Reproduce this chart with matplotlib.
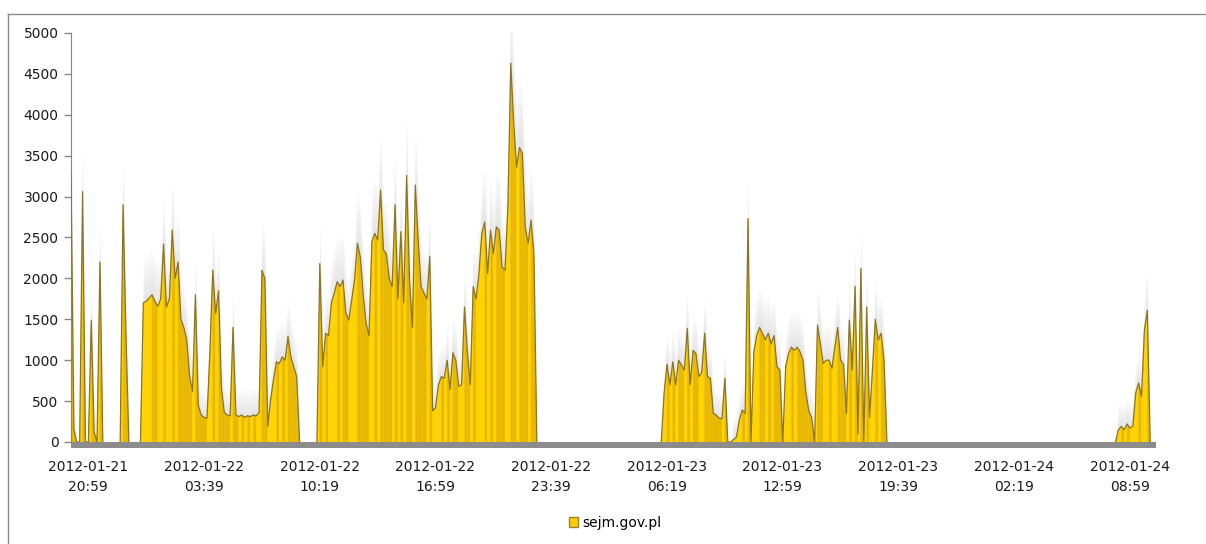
import matplotlib
matplotlib.use("Agg")
import matplotlib.pyplot as plt
import numpy as np
import pandas as pd
from matplotlib.collections import PolyCollection
from matplotlib.lines import Line2D
from matplotlib.patches import Patch

# requests per 10 minutes, one list per burst of traffic (start time -> values)
bursts = [
    ("2012-01-21 20:00", [3300, 150, 0, 0, 3060, 0, 0, 1490, 120, 0, 2200, 0]),
    ("2012-01-21 22:50", [0, 2900, 1300, 0]),
    ("2012-01-22 00:00", [0, 1700, 1720, 1760, 1800, 1720, 1660, 1750, 2420, 1650,
                          1750, 2590, 2000, 2200, 1500, 1400, 1250, 800, 620, 1800,
                          450, 330, 300, 290, 1100, 2100, 1570, 1850, 650, 360,
                          330, 320, 1400, 330, 310, 330, 300, 320, 310, 330,
                          320, 360, 2100, 2000, 190, 520, 760, 980, 960, 1040,
                          1000, 1290, 1040, 920, 800, 0]),
    ("2012-01-22 10:10", [0, 2180, 920, 1330, 1300, 1700, 1820, 1960, 1900, 1980,
                          1580, 1490, 1735, 1980, 2430, 2260, 1800, 1450, 1300, 2450,
                          2550, 2470, 3080, 2350, 2300, 2000, 1900, 2900, 1750, 2570,
                          1700, 3260, 1980, 1400, 3140, 2470, 1900, 1820, 1750, 2265,
                          380, 420, 700, 800, 780, 1000, 640, 1090, 1000, 680,
                          700, 1650, 1100, 700, 1900, 1750, 2060, 2550, 2690, 2060,
                          2590, 2300, 2630, 2590, 2140, 2100, 2880, 4630, 3900, 3360,
                          3600, 3530, 2630, 2430, 2710, 2300, 0]),
    ("2012-01-23 06:00", [0, 600, 950, 700, 980, 700, 1000, 940, 880, 1390,
                          700, 1120, 1080, 800, 850, 1330, 800, 780, 350, 330,
                          290, 285, 780, 0, 0, 30, 60, 270, 390, 350,
                          2730, 0, 1100, 1300, 1400, 1330, 1250, 1330, 1200, 1300,
                          920, 880, 0, 920, 1080, 1160, 1120, 1160, 1100, 1000,
                          600, 380, 300, 0, 1430, 1200, 960, 1000, 1000, 900,
                          1160, 1400, 1000, 950, 350, 1490, 880, 1900, 100, 2120,
                          0, 1650, 300, 880, 1500, 1250, 1330, 1000, 0]),
    ("2012-01-24 08:20", [150, 190, 150, 220, 170, 195, 600, 720, 560, 1370, 1610, 0]),
]

series_name = "sejm.gov.pl"
t_start = pd.Timestamp("2012-01-21 20:00")
t_end = pd.Timestamp("2012-01-24 10:15")
tick_times = pd.date_range("2012-01-21 20:59", periods=10, freq="400min")
y_ticks = np.arange(0, 5001, 500)

# one continuous series, zero where nothing happened
times = pd.date_range(t_start, t_end, freq="10min")
visits = pd.Series(0.0, index=times)
for start, vals in bursts:
    idx = pd.date_range(start, periods=len(vals), freq="10min")
    visits.loc[idx] = vals

x = (visits.index - t_start).total_seconds().values / 60.0
y = visits.values

fig = plt.figure(figsize=(12.06, 5.44), dpi=100)
ax = fig.add_axes([71 / 1206, 96.3 / 544, 1085 / 1206, 414.7 / 544])

# soft grey haze rising above the peaks
for k in range(1, 7):
    top = np.where(y > 0, y * (1 + 0.025 * k) + 45 * k, 0)
    ax.fill_between(x, y, top, color="#9a9a9a", alpha=0.045, lw=0, zorder=1)

# folded gold area: falling slopes a shade darker than rising ones
polys, cols = [], []
for i in range(len(x) - 1):
    if y[i] == 0 and y[i + 1] == 0:
        continue
    polys.append([(x[i], 0), (x[i], y[i]), (x[i + 1], y[i + 1]), (x[i + 1], 0)])
    cols.append("#E8B800" if y[i + 1] < y[i] else "#FFD200")
ax.add_collection(PolyCollection(polys, facecolors=cols, edgecolors=cols, linewidths=0.3, zorder=2))

ym = np.ma.masked_where((y == 0) & (np.roll(y, 1) == 0) & (np.roll(y, -1) == 0), y)
ax.plot(x, ym, color="#8a7428", lw=0.9, zorder=3)

# grey floor under the area
ax.axhspan(-70, 0, color="#8c8c8c", zorder=4, lw=0)

tick_x = (tick_times - t_start).total_seconds() / 60.0
ax.set_xlim(0, (t_end - t_start).total_seconds() / 60.0 + 15)
ax.set_ylim(-70, 5000)
ax.set_xticks(tick_x)
ax.set_xticklabels([t.strftime("%Y-%m-%d\n%H:%M") for t in tick_times], linespacing=1.55)
ax.set_yticks(y_ticks)
ax.set_yticklabels([str(v) for v in y_ticks])

for s in ["top", "right", "bottom"]:
    ax.spines[s].set_visible(False)
ax.spines["left"].set_color("#868686")
ax.spines["left"].set_bounds(0, 5000)
ax.tick_params(axis="y", length=5, width=1, color="#868686", labelsize=10, labelcolor="#1a1a1a", pad=4)
ax.tick_params(axis="x", length=0, labelsize=10, labelcolor="#1a1a1a", pad=9)

fig.legend(handles=[Patch(facecolor="#FFCC00", edgecolor="#9a8430", label=series_name)],
           loc="center", bbox_to_anchor=(0.51, 0.0386), frameon=False,
           handlelength=0.7, handleheight=0.7, handletextpad=0.3, fontsize=10)

# chart frame
fig.add_artist(Line2D([8 / 1206, 1], [530 / 544, 530 / 544], color="#8a8a8a", lw=1))
fig.add_artist(Line2D([8 / 1206, 8 / 1206], [0, 530 / 544], color="#8a8a8a", lw=1))

fig.savefig("out.png", dpi=100)
